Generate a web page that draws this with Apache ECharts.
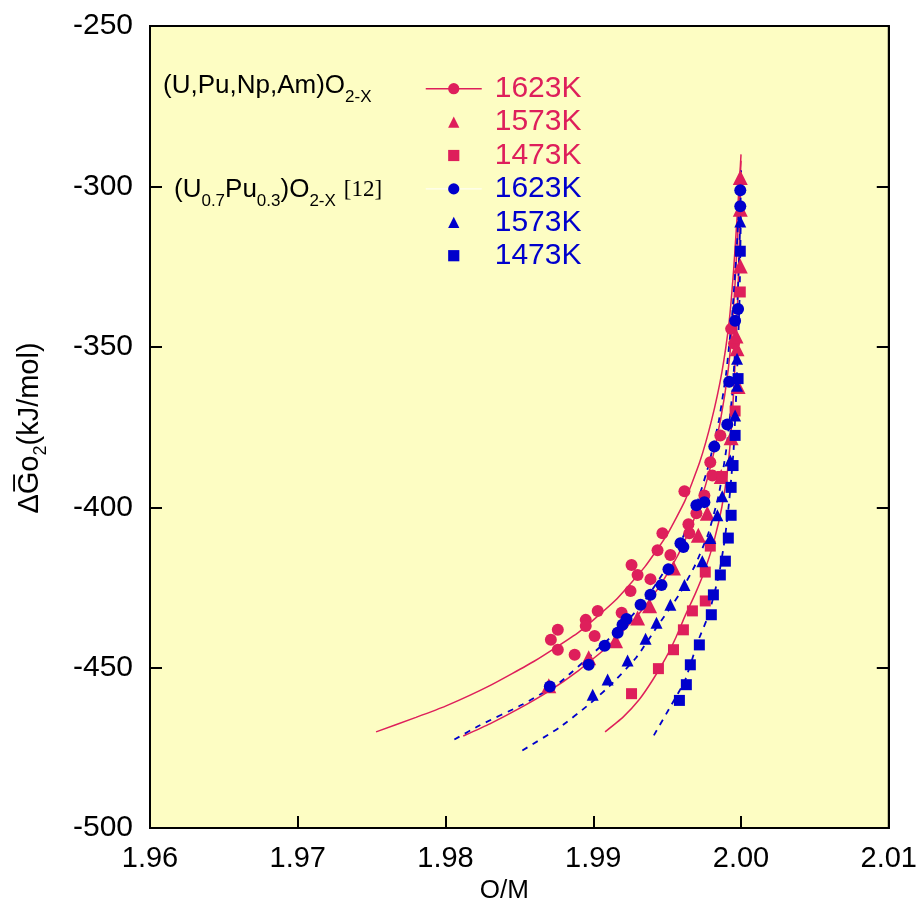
<!DOCTYPE html>
<html>
<head>
<meta charset="utf-8">
<script src="https://cdn.jsdelivr.net/npm/echarts@6/dist/echarts.min.js"></script>
<style>
html,body{margin:0;padding:0;background:#fff;}
#chart{width:920px;height:909px;}
</style>
</head>
<body>
<div id="chart"></div>
<script>
// ---- data (O/M, ΔG_O2 kJ/mol) ----
var xTicks = [1.96, 1.97, 1.98, 1.99, 2.00, 2.01];
var yTicks = [-500, -450, -400, -350, -300, -250];

// (U,Pu,Np,Am)O2-x measured points
var redCirc1623 = [[1.98713,-441.3],[1.98760,-438.2],[1.98760,-444.4],[1.98874,-446.0],[1.98949,-435.1],[1.98949,-437.0],[1.99009,-440.1],[1.99030,-432.3],[1.99192,-432.9],[1.99252,-426.1],[1.99259,-418.0],[1.99300,-421.1],[1.99387,-422.4],[1.99435,-413.4],[1.99468,-408.1],[1.99522,-414.9],[1.99617,-395.0],[1.99644,-405.3],[1.99650,-408.1],[1.99698,-401.9],[1.99752,-396.3],[1.99792,-386.0],[1.99806,-390.1],[1.99860,-377.6],[1.99933,-344.4],[1.99953,-349.0]];
var redTri1573 = [[1.98699,-455.6],[1.98969,-446.9],[1.99151,-441.6],[1.99300,-434.5],[1.99381,-430.7],[1.99543,-418.9],[1.99711,-408.7],[1.99772,-401.9],[1.99866,-390.4],[1.99933,-378.3],[1.99980,-362.4],[1.99973,-350.6],[1.99966,-346.6],[1.99995,-324.8],[1.99995,-307.1],[1.99995,-297.2]];
var redSq1473 = [[1.99259,-458.1],[1.99441,-450.3],[1.99543,-444.4],[1.99610,-438.2],[1.99671,-432.3],[1.99758,-429.2],[1.99758,-420.2],[1.99792,-412.1],[1.99873,-390.4],[1.99960,-370.0],[1.99995,-332.9]];
// (U0.7Pu0.3)O2-x [12] points
var blueCirc1623 = [[1.98706,-455.9],[1.98969,-449.1],[1.99077,-443.2],[1.99165,-439.1],[1.99198,-436.6],[1.99225,-434.8],[1.99320,-430.4],[1.99387,-427.3],[1.99462,-424.2],[1.99509,-419.3],[1.99590,-411.2],[1.99610,-412.4],[1.99698,-399.4],[1.99752,-398.4],[1.99819,-381.1],[1.99907,-374.2],[1.99920,-360.9],[1.99960,-341.9],[1.99980,-338.2],[1.99995,-306.2],[1.99995,-301.2]];
var blueTri1573 = [[1.98996,-458.4],[1.99097,-453.7],[1.99232,-447.8],[1.99354,-441.0],[1.99428,-436.0],[1.99522,-430.4],[1.99617,-424.2],[1.99738,-416.8],[1.99792,-409.6],[1.99840,-402.5],[1.99873,-396.6],[1.99927,-385.4],[1.99960,-371.4],[1.99973,-362.1],[1.99973,-353.7],[1.99995,-310.9]];
var blueSq1473 = [[1.99583,-460.2],[1.99630,-455.3],[1.99657,-449.1],[1.99718,-442.9],[1.99799,-433.5],[1.99813,-427.3],[1.99860,-421.1],[1.99894,-416.8],[1.99914,-409.6],[1.99933,-402.5],[1.99933,-393.8],[1.99946,-387.0],[1.99960,-377.6],[1.99980,-359.9],[1.99995,-320.2]];

// fitted curves
var redCurve1623 = [[1.9753,-470],[1.9780,-465.5],[1.9800,-462],[1.9830,-455.6],[1.9860,-448],[1.9890,-439],[1.9915,-429],[1.9935,-418.5],[1.9950,-408.5],[1.9962,-398],[1.9972,-386],[1.9980,-373],[1.9987,-358],[1.9992,-342],[1.9995,-326],[1.9997,-312],[1.9999,-298],[2.0000,-290]];
var redCurve1573 = [[1.9812,-471.3],[1.9830,-467.5],[1.9850,-462.7],[1.9870,-457.3],[1.9890,-450.9],[1.9910,-443.3],[1.9930,-433.7],[1.9945,-424.6],[1.9957,-415.2],[1.9967,-405.2],[1.9976,-393.1],[1.9983,-380],[1.9989,-365],[1.9993,-350],[1.9996,-330],[1.9998,-312],[2.0000,-292]];
var redCurve1473 = [[1.9908,-470],[1.9920,-465.5],[1.9931,-460],[1.9940,-454],[1.9949,-447],[1.9956,-440.5],[1.9962,-434],[1.9969,-427],[1.9976,-419],[1.9982,-410],[1.9987,-400],[1.9991,-388],[1.9994,-372],[1.9996,-355],[1.9998,-332],[1.9999,-315],[2.0000,-295]];
var blueCurve1623 = [[1.9806,-472.4],[1.9823,-468],[1.9852,-461.5],[1.9877,-454.7],[1.9904,-443.8],[1.9920,-437],[1.9935,-429],[1.9948,-420],[1.9960,-410],[1.9970,-399],[1.9978,-387],[1.9985,-373],[1.9990,-358],[1.9994,-340],[1.9997,-320],[1.9999,-303],[2.0000,-295]];
var blueCurve1573 = [[1.9852,-475.8],[1.9877,-468.7],[1.9897,-461.5],[1.9912,-455.3],[1.9929,-446.9],[1.9944,-436.7],[1.9958,-427.3],[1.9969,-418],[1.9978,-408],[1.9985,-396],[1.9990,-382],[1.9994,-365],[1.9997,-343],[1.9999,-318],[2.0000,-298]];
var blueCurve1473 = [[1.9941,-471.1],[1.9953,-461.5],[1.9962,-454.1],[1.9971,-441.6],[1.9978,-433.6],[1.9985,-421.1],[1.9989,-410],[1.9992,-398],[1.9995,-382],[1.9997,-362],[1.9999,-335],[2.0000,-305]];

var legendLabels = {r1623:'1623K', r1573:'1573K', r1473:'1473K', b1623:'1623K', b1573:'1573K', b1473:'1473K'};

var RED = '#DE1F5B', BLUE = '#0000CC';
var FONT = "'Liberation Sans', Arial, sans-serif";

var chart = echarts.init(document.getElementById('chart'), null, {renderer:'canvas'});

function curve(data, color, dashed) {
  return {type:'line', data:data, symbol:'none', smooth:0.15, silent:true, z:1,
    lineStyle:{color:color, width: dashed ? 1.8 : 1.5, type: dashed ? [6,6] : 'solid'}};
}
// points drawn as symbols only (line kept invisible), so the legend icon keeps its aspect
function pts(name, data, sym, size, color) {
  return {name:name, type:'line', data:data, symbol:sym, symbolSize:size, showSymbol:true, z:3,
    silent:true, lineStyle:{width:0, color:'transparent'}, itemStyle:{color:color, opacity:1}};
}

var option = {
  animation:false,
  backgroundColor:'#ffffff',
  grid:{left:150, top:26, right:29, bottom:78, show:true, backgroundColor:'#FDFDC3', borderColor:'#000', borderWidth:2},
  xAxis:[{
    type:'value', min:1.96, max:2.01, interval:0.01,
    name:'O/M', nameLocation:'middle', nameGap:48,
    nameTextStyle:{fontFamily:FONT, fontSize:26, color:'#000', padding:[0,30,0,0]},
    axisLine:{show:true, onZero:false, lineStyle:{color:'#000', width:2}},
    axisTick:{show:true, inside:true, length:12, lineStyle:{color:'#000', width:2}},
    axisLabel:{fontFamily:FONT, fontSize:29, color:'#000', margin:16,
      formatter:function(v){return v.toFixed(2);}},
    splitLine:{show:false}
  }],
  yAxis:[{
    type:'value', min:-500, max:-250, interval:50,
    axisLine:{show:true, onZero:false, lineStyle:{color:'#000', width:2}},
    axisTick:{show:true, inside:true, length:12, lineStyle:{color:'#000', width:2}},
    axisLabel:{fontFamily:FONT, fontSize:30, color:'#000', margin:17},
    splitLine:{show:false}
  },{
    type:'value', min:-500, max:-250, interval:50, position:'right',
    axisLine:{show:true, onZero:false, lineStyle:{color:'#000', width:2}},
    axisTick:{show:true, inside:true, length:12, lineStyle:{color:'#000', width:2}},
    axisLabel:{show:false}, splitLine:{show:false}
  }],
  legend:{
    orient:'vertical', left:420, top:67, itemWidth:56, itemHeight:14, itemGap:0,
    selectedMode:false,
    textStyle:{fontFamily:FONT, fontSize:30, lineHeight:33.4, padding:[0,0,0,8]},
    formatter:function(n){return legendLabels[n];},
    data:[
      {name:'r1623', textStyle:{color:RED}, lineStyle:{color:RED, width:1.5, opacity:1}},
      {name:'r1573', textStyle:{color:RED}},
      {name:'r1473', textStyle:{color:RED}},
      {name:'b1623', textStyle:{color:BLUE}, lineStyle:{color:'#ffffff', width:1, opacity:1}},
      {name:'b1573', textStyle:{color:BLUE}},
      {name:'b1473', textStyle:{color:BLUE}}
    ]
  },
  graphic:[
    {type:'text', left:163, top:73, z:10,
      style:{rich:{m:{fontFamily:FONT, fontSize:26, fill:'#000'}, s:{fontFamily:FONT, fontSize:17, fill:'#000', padding:[22,0,0,0]}},
        text:'{m|(U,Pu,Np,Am)O}{s|2-X}'}},
    {type:'text', left:174, top:177, z:10,
      style:{rich:{m:{fontFamily:FONT, fontSize:26, fill:'#000'}, s:{fontFamily:FONT, fontSize:17, fill:'#000', padding:[22,0,0,0]},
        r:{fontFamily:"'Liberation Serif', 'DejaVu Serif', serif", fontSize:23, fill:'#000', padding:[0,0,0,8]}},
        text:'{m|(U}{s|0.7}{m|Pu}{s|0.3}{m|)O}{s|2-X}{r|[12]}'}},
    {type:'text', x:30, y:428, rotation:Math.PI/2, z:10,
      style:{rich:{m:{fontFamily:FONT, fontSize:29, fill:'#000'}, s:{fontFamily:FONT, fontSize:18, fill:'#000', padding:[22,0,0,0]}},
        text:'{m|\u0394G\u0305o}{s|2}{m|(kJ/mol)}', align:'center', verticalAlign:'middle'}}
  ],
  series:[
    curve(redCurve1623, RED, false),
    curve(redCurve1573, RED, false),
    curve(redCurve1473, RED, false),
    curve(blueCurve1623, BLUE, true),
    curve(blueCurve1573, BLUE, true),
    curve(blueCurve1473, BLUE, true),
    pts('r1623', redCirc1623, 'circle', 12, RED),
    pts('r1573', redTri1573, 'triangle', 15, RED),
    pts('r1473', redSq1473, 'rect', 11, RED),
    pts('b1623', blueCirc1623, 'circle', 12, BLUE),
    pts('b1573', blueTri1573, 'triangle', 12, BLUE),
    pts('b1473', blueSq1473, 'rect', 11, BLUE)
  ]
};
chart.setOption(option);
</script>
</body>
</html>
